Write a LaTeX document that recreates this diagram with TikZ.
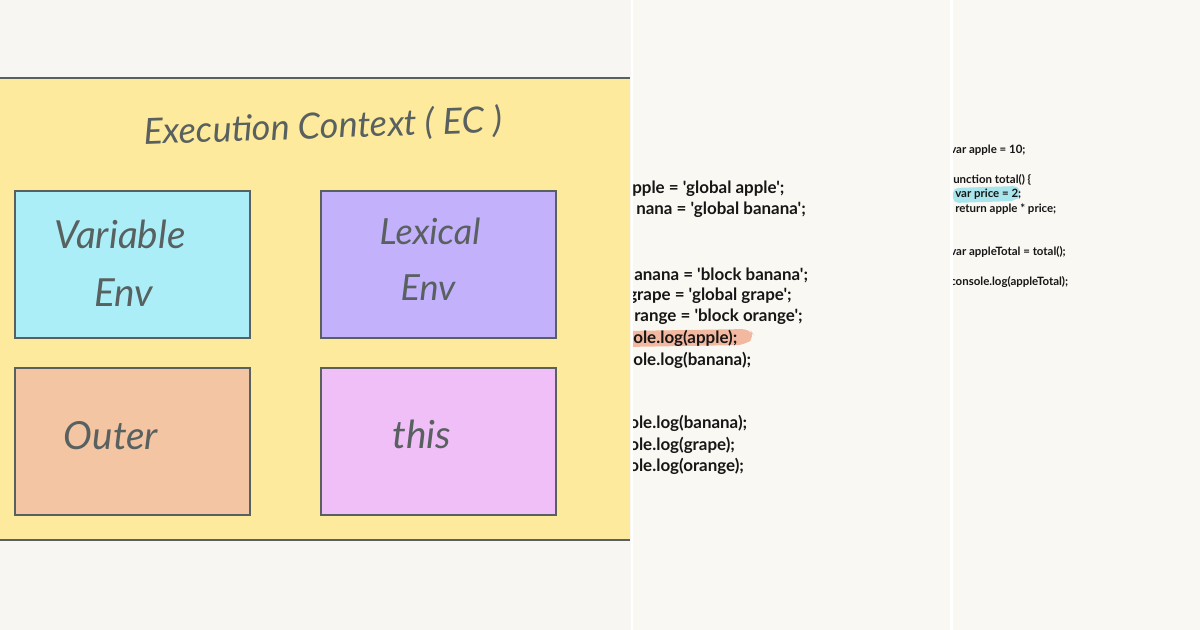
\documentclass[tikz,border=0pt]{standalone}
\usepackage{fontspec}
\setmainfont{Lato}
\newfontfamily\codefont{Lato}
\usetikzlibrary{calc}
\definecolor{paperA}{HTML}{F7F6F2}
\definecolor{paperB}{HTML}{FAF8F3}
\definecolor{inkline}{HTML}{586060}
\definecolor{inkcode}{HTML}{161616}
\definecolor{panelyellow}{HTML}{FEEA9C}
\definecolor{boxcyan}{HTML}{ABEEF7}
\definecolor{boxpurple}{HTML}{C3B1FC}
\definecolor{boxorange}{HTML}{F3C5A2}
\definecolor{boxpink}{HTML}{F0BFF7}
\definecolor{markorange}{HTML}{F3B9A0}
\definecolor{markcyan}{HTML}{A9E5EC}
\tikzset{
  x=.75pt,y=-.75pt,
  ecbox/.style={draw=inkline,line width=1.6pt,minimum width=176pt,minimum height=110pt,inner sep=0pt},
  hand/.style={text=inkline,font=\itshape\fontsize{#1}{#1}\selectfont,inner sep=0pt},
  codeA/.style={right,inner sep=0pt,text=inkcode,font=\codefont\bfseries\fontsize{12.7}{14}\selectfont},
  codeB/.style={right,inner sep=0pt,text=inkcode,font=\codefont\bfseries\fontsize{8.6}{10}\selectfont}
}
\begin{document}
\begin{tikzpicture}
\useasboundingbox(0,0)rectangle(1200,630);
\fill[white](0,0)rectangle(1200,630);
\fill[paperA](0,0)rectangle(631,630);
\fill[paperB](633,0)rectangle(950,630);
\fill[paperB](952.5,0)rectangle(1200,630);
% yellow panel
\fill[panelyellow](0,78)rectangle(630,540);
\draw[inkline,line width=1.6pt](0,78)--(630,78);
\draw[inkline,line width=1.6pt](0,540)--(630,540);
\node[hand=27,rotate=2]at(323,127)(title){Execution Context ( EC )};
\node[ecbox,fill=boxcyan]at(132.5,264.5)(varbox){};
\node[ecbox,fill=boxpurple]at(438.5,264.5)(lexbox){};
\node[ecbox,fill=boxorange]at(132.5,441.5)(outerbox){};
\node[ecbox,fill=boxpink]at(438.5,441.5)(thisbox){};
\node[hand=29]at(120,234)(varA){Variable};
\node[hand=29]at(124,293)(varB){Env};
\node[hand=27]at(430,231)(lexA){Lexical};
\node[hand=27]at(428,288)(lexB){Env};
\node[hand=29]at(111,436)(outerA){Outer};
\node[hand=29]at(422,434)(thisA){this};
% middle column
\begin{scope}
\clip(633,0)rectangle(950,630);
\fill[markorange,rounded corners=6pt](625,331)--(750,329)--(755,337)--(745,345)--(625,347)--cycle;
\node[codeA]at(632,189)(lineA){pple = 'global apple';};
\node[codeA]at(636,210)(lineB){nana = 'global banana';};
\node[codeA]at(634,275)(lineC){anana = 'block banana';};
\node[codeA]at(628,296)(lineD){grape = 'global grape';};
\node[codeA]at(634,317)(lineE){range = 'block orange';};
\node[codeA]at(633,338)(lineF){ole.log(apple);};
\node[codeA]at(633,360)(lineG){ole.log(banana);};
\node[codeA]at(629,423)(lineH){ole.log(banana);};
\node[codeA]at(629,445)(lineI){ole.log(grape);};
\node[codeA]at(629,466)(lineJ){ole.log(orange);};
\end{scope}
% right column
\begin{scope}
\clip(953,0)rectangle(1200,630);
\fill[markcyan,rounded corners=4pt](953,188)--(1019,186)--(1021,195)--(1015,201)--(953,203)--cycle;
\node[codeB]at(950,150)(rowA){var apple = 10;};
\node[codeB]at(953,180)(rowB){unction total() \{};
\node[codeB]at(955,194)(rowC){var price = 2;};
\node[codeB]at(955,209)(rowD){return apple * price;};
\node[codeB]at(950,252)(rowE){var appleTotal = total();};
\node[codeB]at(950,282)(rowF){console.log(appleTotal);};
\end{scope}
\end{tikzpicture}
\end{document}
